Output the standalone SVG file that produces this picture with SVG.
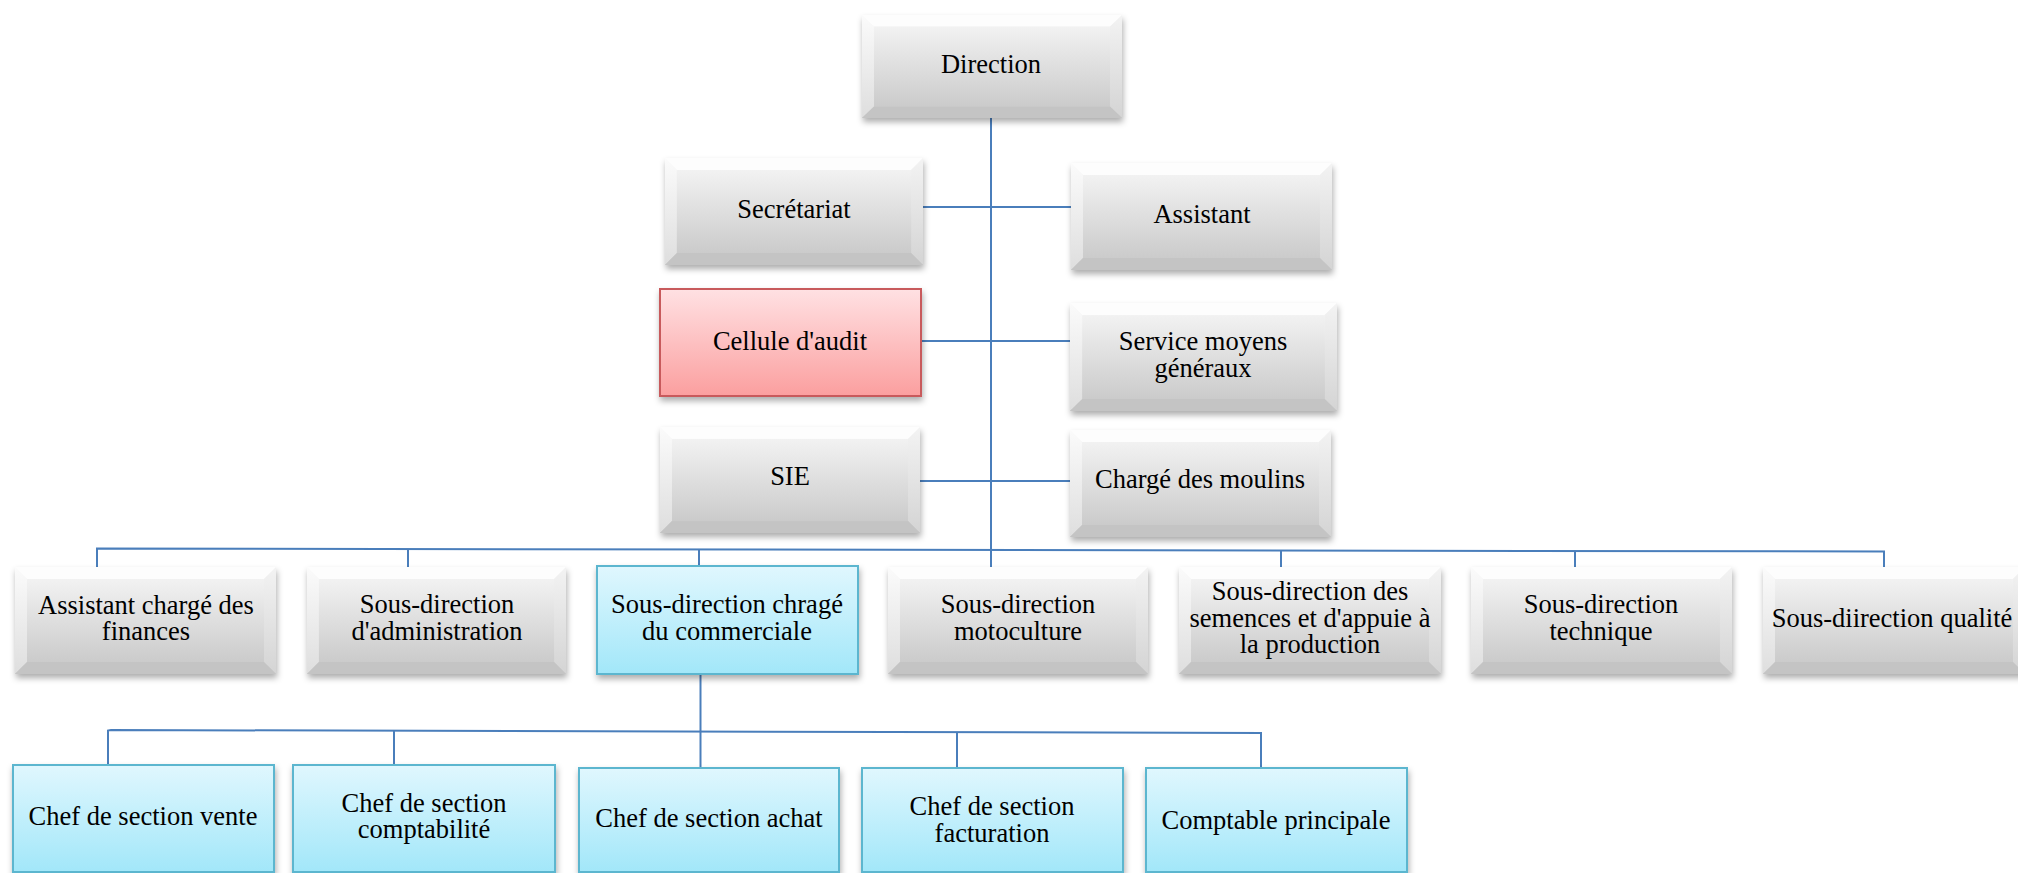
<svg xmlns="http://www.w3.org/2000/svg" xmlns:xlink="http://www.w3.org/1999/xlink" width="2018" height="873" viewBox="0 0 2018 873">
  <defs>
    <linearGradient id="gOuter" x1="0" y1="0" x2="0" y2="1">
      <stop offset="0" stop-color="#fbfbfb"/>
      <stop offset="1" stop-color="#c6c6c6"/>
    </linearGradient>
    <linearGradient id="gFace" x1="0" y1="0" x2="0" y2="1">
      <stop offset="0" stop-color="#f2f2f2"/>
      <stop offset="1" stop-color="#cbcbcb"/>
    </linearGradient>
    <linearGradient id="gSideL" x1="0" y1="0" x2="0" y2="1">
      <stop offset="0" stop-color="#fbfbfb"/>
      <stop offset="1" stop-color="#dedede"/>
    </linearGradient>
    <linearGradient id="gSideR" x1="0" y1="0" x2="0" y2="1">
      <stop offset="0" stop-color="#f3f3f3"/>
      <stop offset="1" stop-color="#d4d4d4"/>
    </linearGradient>
    <linearGradient id="gBlue" x1="0" y1="0" x2="0" y2="1">
      <stop offset="0" stop-color="#e0f7fe"/>
      <stop offset="1" stop-color="#a2e7f9"/>
    </linearGradient>
    <linearGradient id="gRed" x1="0" y1="0" x2="0" y2="1">
      <stop offset="0" stop-color="#ffe1e3"/>
      <stop offset="1" stop-color="#fb9f9f"/>
    </linearGradient>
    <filter id="shadow" x="-5%" y="-10%" width="115%" height="130%">
      <feDropShadow dx="1" dy="4" stdDeviation="3" flood-color="#000" flood-opacity="0.32"/>
    </filter>
    <!-- bevelled grey box, stretched to each node's size -->
    <symbol id="bevel" viewBox="0 0 260 107" preserveAspectRatio="none">
      <rect x="0" y="0" width="260" height="107" fill="url(#gOuter)"/>
      <polygon points="0,0 260,0 248,12 12,12" fill="#fdfdfd"/>
      <polygon points="0,0 12,12 12,95 0,107" fill="url(#gSideL)"/>
      <polygon points="260,0 260,107 248,95 248,12" fill="url(#gSideR)"/>
      <polygon points="0,107 12,95 248,95 260,107" fill="#c4c4c4"/>
      <rect x="12" y="12" width="236" height="83" fill="url(#gFace)"/>
    </symbol>
  </defs>
  <style>
    text { font-family: "Liberation Serif", "Times New Roman", serif; font-size: 26.5px; fill: #000; text-anchor: middle; }
    .box { filter: url(#shadow); }
    .blue { fill: url(#gBlue); stroke: #5cb6cf; stroke-width: 2; }
    .red { fill: url(#gRed); stroke: #c85a5c; stroke-width: 2; }
    .link { fill: none; stroke: #4a7ebb; stroke-width: 2; }
  </style>

  <rect width="2018" height="873" fill="#fff"/>

  <g id="connectors">
    <!-- main trunk -->
    <line class="link" x1="991" y1="118" x2="991" y2="567"/>
    <!-- staff links -->
    <line class="link" x1="923" y1="207" x2="1071" y2="207"/>
    <line class="link" x1="921" y1="341" x2="1070" y2="341"/>
    <line class="link" x1="920" y1="481" x2="1070" y2="481"/>
    <!-- sub-direction bus -->
    <polyline class="link" points="97,567 97,548.5 1884,551.5 1884,567"/>
    <line class="link" x1="408" y1="549" x2="408" y2="567"/>
    <line class="link" x1="699" y1="549" x2="699" y2="566"/>
    <line class="link" x1="1281" y1="550.5" x2="1281" y2="567"/>
    <line class="link" x1="1575" y1="551" x2="1575" y2="567"/>
    <!-- commercial sections bus -->
    <line class="link" x1="700.5" y1="674" x2="700.5" y2="768"/>
    <polyline class="link" points="108,765 108,730.5 111,730 1261,733 1261,768"/>
    <line class="link" x1="394" y1="730.5" x2="394" y2="765"/>
    <line class="link" x1="957" y1="732" x2="957" y2="768"/>
  </g>

  <g id="direction">
    <use class="box" xlink:href="#bevel" x="862" y="15" width="260" height="103"/>
    <text x="991" y="73">Direction</text>
  </g>
  <g id="secretariat">
    <use class="box" xlink:href="#bevel" x="665" y="158" width="258" height="107"/>
    <text x="794" y="218">Secrétariat</text>
  </g>
  <g id="assistant">
    <use class="box" xlink:href="#bevel" x="1071" y="163" width="261" height="107"/>
    <text x="1202" y="223">Assistant</text>
  </g>
  <g id="cellule-audit">
    <rect class="box red" x="660" y="289" width="261" height="107"/>
    <text x="790" y="350">Cellule d'audit</text>
  </g>
  <g id="service-moyens">
    <use class="box" xlink:href="#bevel" x="1070" y="303" width="267" height="108"/>
    <text x="1203" y="350">Service moyens</text>
    <text x="1203" y="377">généraux</text>
  </g>
  <g id="sie">
    <use class="box" xlink:href="#bevel" x="660" y="427" width="260" height="106"/>
    <text x="790" y="485">SIE</text>
  </g>
  <g id="charge-moulins">
    <use class="box" xlink:href="#bevel" x="1070" y="430" width="261" height="107"/>
    <text x="1200" y="488">Chargé des moulins</text>
  </g>

  <g id="assistant-finances">
    <use class="box" xlink:href="#bevel" x="15" y="567" width="261" height="107"/>
    <text x="146" y="614">Assistant chargé des</text>
    <text x="146" y="640">finances</text>
  </g>
  <g id="sd-administration">
    <use class="box" xlink:href="#bevel" x="307" y="567" width="259" height="107"/>
    <text x="437" y="613">Sous-direction</text>
    <text x="437" y="640">d'administration</text>
  </g>
  <g id="sd-commerciale">
    <rect class="box blue" x="597" y="566" width="261" height="108"/>
    <text x="727" y="613">Sous-direction chragé</text>
    <text x="727" y="640">du commerciale</text>
  </g>
  <g id="sd-motoculture">
    <use class="box" xlink:href="#bevel" x="888" y="567" width="260" height="107"/>
    <text x="1018" y="613">Sous-direction</text>
    <text x="1018" y="640">motoculture</text>
  </g>
  <g id="sd-semences">
    <use class="box" xlink:href="#bevel" x="1179" y="567" width="262" height="107"/>
    <text x="1310" y="600">Sous-direction des</text>
    <text x="1310" y="627">semences et d'appuie à</text>
    <text x="1310" y="653">la production</text>
  </g>
  <g id="sd-technique">
    <use class="box" xlink:href="#bevel" x="1471" y="567" width="261" height="107"/>
    <text x="1601" y="613">Sous-direction</text>
    <text x="1601" y="640">technique</text>
  </g>
  <g id="sd-qualite">
    <use class="box" xlink:href="#bevel" x="1763" y="567" width="262" height="107"/>
    <text x="1892" y="627">Sous-diirection qualité</text>
  </g>

  <g id="chef-vente">
    <rect class="box blue" x="13" y="765" width="261" height="107"/>
    <text x="143" y="825">Chef de section vente</text>
  </g>
  <g id="chef-comptabilite">
    <rect class="box blue" x="293" y="765" width="262" height="107"/>
    <text x="424" y="812">Chef de section</text>
    <text x="424" y="838">comptabilité</text>
  </g>
  <g id="chef-achat">
    <rect class="box blue" x="579" y="768" width="260" height="104"/>
    <text x="709" y="827">Chef de section achat</text>
  </g>
  <g id="chef-facturation">
    <rect class="box blue" x="862" y="768" width="261" height="104"/>
    <text x="992" y="815">Chef de section</text>
    <text x="992" y="842">facturation</text>
  </g>
  <g id="comptable-principale">
    <rect class="box blue" x="1146" y="768" width="261" height="104"/>
    <text x="1276" y="829">Comptable principale</text>
  </g>
</svg>
